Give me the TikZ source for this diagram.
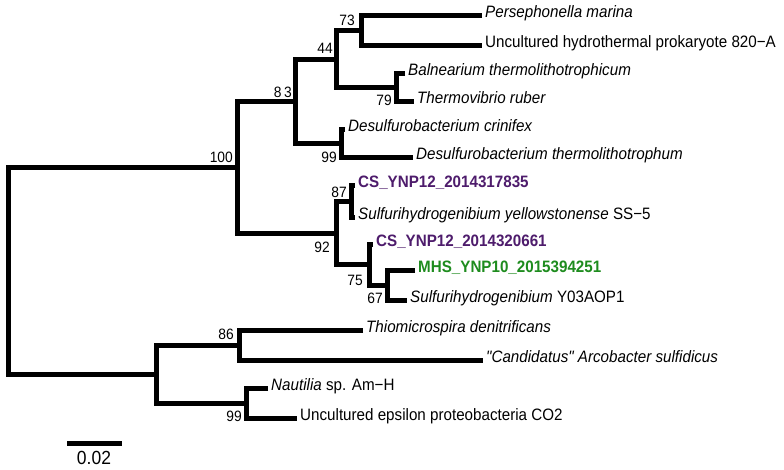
\documentclass[tikz,border=0pt]{standalone}
\usepackage{fontspec}
\setmainfont{Liberation Sans}[FakeStretch=0.92, Ligatures=TeXOff]
\definecolor{csp}{RGB}{78,28,108}
\definecolor{mhg}{RGB}{30,140,30}
\begin{document}
\begin{tikzpicture}[x=1pt,y=-1pt,
  br/.style={line width=5pt, line cap=butt, line join=miter},
  taxon/.style={anchor=base west, inner sep=0pt, font=\fontsize{16.5}{18}\selectfont, xshift=3pt, yshift=-2pt},
  boot/.style={anchor=east, inner sep=0pt, font=\fontsize{15}{16}\selectfont},
  csl/.style={taxon, text=csp, font=\fontsize{16.5}{18}\selectfont\bfseries},
  mhl/.style={taxon, text=mhg, font=\fontsize{16.5}{18}\selectfont\bfseries}]
\fill[white] (0,0) rectangle (784,469);
\useasboundingbox (0,0) rectangle (784,469);
% internal nodes
\coordinate (root) at (8,271);
\coordinate (n100) at (237,167);
\coordinate (n83) at (295,101);
\coordinate (n44) at (336,59);
\coordinate (n73) at (361,30);
\coordinate (n79) at (396,87);
\coordinate (n99a) at (341,143);
\coordinate (n92) at (336,233);
\coordinate (n87) at (351,201);
\coordinate (n75) at (369,264);
\coordinate (n67) at (387,285);
\coordinate (nlow) at (156,374);
\coordinate (n86) at (239,345);
\coordinate (n99b) at (246,403);
% tips
\coordinate (t1) at (482,15);
\coordinate (t2) at (482,45);
\coordinate (t3) at (405,73);
\coordinate (t4) at (414,101);
\coordinate (t5) at (345,129);
\coordinate (t6) at (413,157);
\coordinate (t7) at (355,185);
\coordinate (t8) at (355,217);
\coordinate (t9) at (373,244);
\coordinate (t10) at (415,270);
\coordinate (t11) at (407,300);
\coordinate (t12) at (363,330);
\coordinate (t13) at (483,360);
\coordinate (t14) at (268,388);
\coordinate (t15) at (297,418);
% branches
\draw[br] (n100) -| (root) |- (nlow);
\draw[br] (n83) -| (n100) |- (n92);
\draw[br] (n44) -| (n83) |- (n99a);
\draw[br] (n73) -| (n44) |- (n79);
\draw[br] (t1) -| (n73) |- (t2);
\draw[br] (t3) -| (n79) |- (t4);
\draw[br] (t5) -| (n99a) |- (t6);
\draw[br] (n87) -| (n92) |- (n75);
\draw[br] (t7) -| (n87) |- (t8);
\draw[br] (t9) -| (n75) |- (n67);
\draw[br] (t10) -| (n67) |- (t11);
\draw[br] (n86) -| (nlow) |- (n99b);
\draw[br] (t12) -| (n86) |- (t13);
\draw[br] (t14) -| (n99b) |- (t15);
% taxa
\node[taxon] (l1) at (t1) {\itshape Persephonella marina};
\node[taxon] (l2) at (t2) {Uncultured hydrothermal prokaryote 820−A};
\node[taxon] (l3) at (t3) {\itshape Balnearium thermolithotrophicum};
\node[taxon] (l4) at (t4) {\itshape Thermovibrio ruber};
\node[taxon] (l5) at (t5) {\itshape Desulfurobacterium crinifex};
\node[taxon] (l6) at (t6) {\itshape Desulfurobacterium thermolithotrophum};
\node[csl] (l7) at (t7) {CS\_YNP12\_2014317835};
\node[taxon] (l8) at (t8) {\textit{Sulfurihydrogenibium yellowstonense} SS−5};
\node[csl] (l9) at (t9) {CS\_YNP12\_2014320661};
\node[mhl] (l10) at (t10) {MHS\_YNP10\_2015394251};
\node[taxon] (l11) at (t11) {\textit{Sulfurihydrogenibium} Y03AOP1};
\node[taxon] (l12) at (t12) {\itshape Thiomicrospira denitrificans};
\node[taxon] (l13) at (t13) {\itshape "Candidatus" Arcobacter sulfidicus};
\node[taxon] (l14) at (t14) {\textit{Nautilia} sp. Am−H};
\node[taxon] (l15) at (t15) {Uncultured epsilon proteobacteria CO2};
% bootstrap values
\node[boot] (b73) at (355,20) {73};
\node[boot] (b44) at (333,48) {44};
\node[boot] (b83) at (292,92) {8\hspace{2.5pt}3};
\node[boot] (b100) at (233,157) {100};
\node[boot] (b79) at (392,100) {79};
\node[boot] (b99a) at (337,157) {99};
\node[boot] (b87) at (347,192) {87};
\node[boot] (b92) at (330,247) {92};
\node[boot] (b75) at (363,280) {75};
\node[boot] (b67) at (383,298) {67};
\node[boot] (b86) at (234,334) {86};
\node[boot] (b99b) at (242,416) {99};
% scale bar
\coordinate (s1) at (67,443);
\coordinate (s2) at (122,443);
\draw[br] (s1) -- (s2);
\node[inner sep=0pt, font=\fontsize{19}{21}\selectfont] (slab) at (94,458) {0.02};
\end{tikzpicture}
\end{document}
